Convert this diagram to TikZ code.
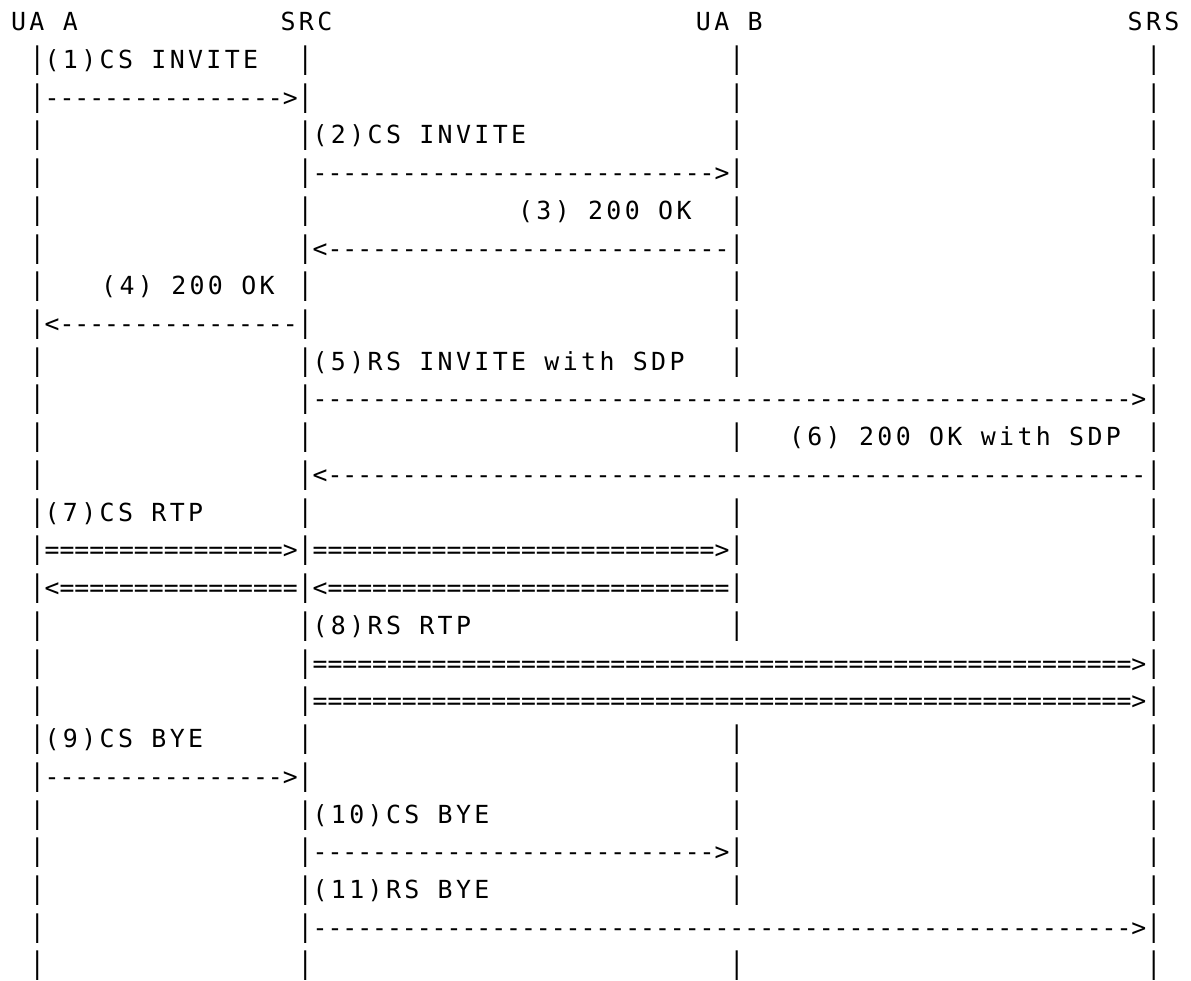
\documentclass[tikz,border=0pt]{standalone}
\usepackage{fontspec}
\usepackage{graphicx}
\newfontfamily\gridfont{DejaVu Sans Mono}[Ligatures=TeXOff]
\newfontfamily\labfont{DejaVu Sans Mono}[Ligatures=TeXOff,LetterSpace=13.5]
\ExplSyntaxOn
\cs_new:Npn \myrep #1#2 { \prg_replicate:nn {#1} {#2} }
\ExplSyntaxOff
\newcommand\mycw{14.8875pt}
\newcommand\myrh{37.73pt}
\newcommand\myyb{950.3pt}
\tikzset{
  asciiline/.style={anchor=base west, inner sep=0pt, outer sep=0pt, font=\gridfont\fontsize{24.73}{30}\selectfont},
  lab/.style={anchor=base west, inner sep=0pt, outer sep=0pt, font=\labfont\fontsize{24.9}{30}\selectfont},
  lifebar/.style={anchor=base west, inner sep=0pt, outer sep=0pt, font=\gridfont\fontsize{24.73}{30}\selectfont},
}
\newcommand\lbl[3]{\node[lab] (t#1c#2) at ({#2*\mycw},{\myyb-(#1-1)*\myrh}) {#3};}
\newcommand\asc[3]{\node[asciiline] (a#1c#2) at ({#2*\mycw},{\myyb-(#1-1)*\myrh}) {#3};}
\newcommand\bars[2]{\foreach \cc in {#2}{\node[lifebar] (b#1c\cc) at ({\cc*\mycw},{\myyb-(#1-1)*\myrh}) {\scalebox{1}[1.2]{|}};}}
\begin{document}
\begin{tikzpicture}
\useasboundingbox (0,0) rectangle (1191pt,981pt);
\fill[white] (0,0) rectangle (1191pt,981pt);
% row 1
\lbl{1}{0.75}{UA A}
\lbl{1}{18.85}{SRC}
\lbl{1}{46.75}{UA B}
\lbl{1}{75.75}{SRS}
% row 2
\bars{2}{2,20,49,77}
\lbl{2}{3}{(1)CS INVITE}
% row 3
\bars{3}{2,20,49,77}
\asc{3}{3}{\myrep{16}{-}>}
% row 4
\bars{4}{2,20,49,77}
\lbl{4}{21}{(2)CS INVITE}
% row 5
\bars{5}{2,20,49,77}
\asc{5}{21}{\myrep{27}{-}>}
% row 6
\bars{6}{2,20,49,77}
\lbl{6}{34.8}{(3) 200 OK}
% row 7
\bars{7}{2,20,49,77}
\asc{7}{21}{<\myrep{27}{-}}
% row 8
\bars{8}{2,20,49,77}
\lbl{8}{6.8}{(4) 200 OK}
% row 9
\bars{9}{2,20,49,77}
\asc{9}{3}{<\myrep{16}{-}}
% row 10
\bars{10}{2,20,49,77}
\lbl{10}{21}{(5)RS INVITE with SDP}
% row 11
\bars{11}{2,20,77}
\asc{11}{21}{\myrep{55}{-}>}
% row 12
\bars{12}{2,20,49,77}
\lbl{12}{53}{(6) 200 OK with SDP}
% row 13
\bars{13}{2,20,77}
\asc{13}{21}{<\myrep{55}{-}}
% row 14
\bars{14}{2,20,49,77}
\lbl{14}{3}{(7)CS RTP}
% row 15
\bars{15}{2,20,49,77}
\asc{15}{3}{\myrep{16}{=}>}
\asc{15}{21}{\myrep{27}{=}>}
% row 16
\bars{16}{2,20,49,77}
\asc{16}{3}{<\myrep{16}{=}}
\asc{16}{21}{<\myrep{27}{=}}
% row 17
\bars{17}{2,20,49,77}
\lbl{17}{21}{(8)RS RTP}
% row 18
\bars{18}{2,20,77}
\asc{18}{21}{\myrep{55}{=}>}
% row 19
\bars{19}{2,20,77}
\asc{19}{21}{\myrep{55}{=}>}
% row 20
\bars{20}{2,20,49,77}
\lbl{20}{3}{(9)CS BYE}
% row 21
\bars{21}{2,20,49,77}
\asc{21}{3}{\myrep{16}{-}>}
% row 22
\bars{22}{2,20,49,77}
\lbl{22}{21}{(10)CS BYE}
% row 23
\bars{23}{2,20,49,77}
\asc{23}{21}{\myrep{27}{-}>}
% row 24
\bars{24}{2,20,49,77}
\lbl{24}{21}{(11)RS BYE}
% row 25
\bars{25}{2,20,77}
\asc{25}{21}{\myrep{55}{-}>}
% row 26
\bars{26}{2,20,49,77}
\end{tikzpicture}
\end{document}
